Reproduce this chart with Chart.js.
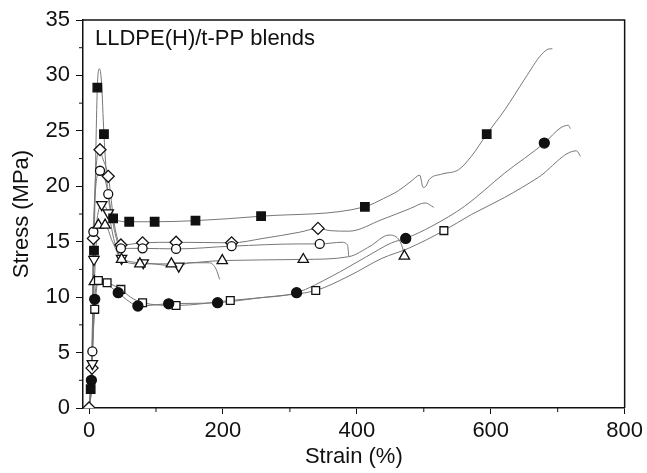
<!DOCTYPE html>
<html>
<head>
<meta charset="utf-8">
<script src="https://cdn.jsdelivr.net/npm/chart.js@4.4.1/dist/chart.umd.min.js"></script>
<style>
  body { margin: 0; background: #fff; }
  #wrap { width: 647px; height: 473px; }
</style>
</head>
<body>
<div id="wrap"><canvas id="stress_chart" width="647" height="473"></canvas></div>
<script>
const sqFilledLine = [[0,0],[2.5,1.7],[7.4,14.2],[12.4,28.9],[15.5,30.6],[18.5,29.5],[22.3,24.7],[28,19.5],[36,17.1],[60,16.8],[98,16.8],[159,16.9],[257,17.3],[412,18.15],[440,18.9],[462,19.6],[482,20.5],[494,21.0],[499,19.9],[503,20.0],[508,20.6],[527,21.1],[552,21.5],[571,22.7],[594,24.7],[621,26.9],[651,29.7],[676,31.9],[688,32.4],[692,32.4]];
const sqFilledMarks = [[2.5,1.7],[7.4,14.2],[12.4,28.9],[22.3,24.7],[36,17.1],[60,16.8],[98,16.8],[159,16.9],[257,17.3],[412,18.15],[594,24.7]];

const circFilledLine = [[0,0],[3.5,2.5],[8.5,9.8],[14,11.5],[25,11.2],[43.6,10.4],[60,9.6],[73,9.2],[119,9.4],[192,9.5],[250,9.9],[310,10.4],[363,11.9],[413,13.6],[452,14.9],[473,15.3],[512,16.4],[561,18.2],[621,21.2],[680,23.9],[705,25.3],[716,25.5],[719,25.2]];
const circFilledMarks = [[3.5,2.5],[8.5,9.8],[43.6,10.4],[73,9.2],[119,9.4],[192,9.5],[310,10.4],[473,15.3],[680,23.9]];

const sqOpenLine = [[0,0],[3,2.8],[8.5,8.9],[14,11.5],[27,11.3],[47.6,10.7],[62,10.0],[80,9.5],[130,9.25],[211,9.7],[280,10.1],[338.6,10.6],[388,11.9],[437.6,13.5],[477,14.4],[530,16.0],[571,17.45],[621,19.0],[671,20.8],[728,23.2],[734,22.7]];
const sqOpenMarks = [[8.5,8.9],[14,11.5],[27,11.3],[47.6,10.7],[80,9.5],[130,9.25],[211,9.7],[338.6,10.6],[530,16.0]];

const triUpLine = [[0,0],[3,1.5],[8,11.4],[14,16.5],[24,16.5],[35,15],[48.6,13.4],[76,13.0],[123,13.0],[199,13.3],[320,13.4],[388,13.65],[420,14.6],[448,15.6],[462,15.25],[468,14.5],[471,13.7]];
const triUpMarks = [[8,11.4],[14,16.5],[24,16.5],[48.6,13.4],[76,13.0],[123,13.0],[199,13.3],[320,13.4],[471,13.7]];

const triDownLine = [[0,0],[5,4.0],[7.4,13.4],[12,17],[18.9,18.35],[28.7,17.6],[38,15],[48.6,13.5],[81,13.1],[134,12.8],[150,13.1],[180,13.1],[190,12.5],[195,11.6]];
const triDownMarks = [[5,4.0],[7.4,13.4],[18.9,18.35],[28.7,17.6],[48.6,13.5],[81,13.1],[134,12.8]];

const circOpenLine = [[0,0],[5,5.1],[6.5,15.9],[16.4,21.4],[22,21],[28.7,19.3],[38,16],[47.6,14.4],[80,14.4],[130,14.35],[213,14.6],[314,14.8],[344.6,14.8],[378,14.95],[386,14.7],[388,13.7]];
const circOpenMarks = [[5,5.1],[6.5,15.9],[16.4,21.4],[28.7,19.3],[47.6,14.4],[80,14.4],[130,14.35],[213,14.6],[344.6,14.8]];

const diamondLine = [[0,0],[4.5,3.6],[6.5,15.3],[16.4,23.3],[20,22.6],[28.7,20.9],[38,16.5],[47.6,14.7],[80,14.9],[130,14.95],[213,14.9],[260,15.3],[314,15.85],[342,16.2],[360,16.0],[388,15.95],[437.6,17.0],[480,18.0],[502,18.5],[515,18.1]];
const diamondMarks = [[0,0],[4.5,3.6],[6.5,15.3],[16.4,23.3],[28.7,20.9],[47.6,14.7],[80,14.9],[130,14.95],[213,14.9],[342,16.2]];

const xTicks = [0, 200, 400, 600, 800];
const yTicks = [0, 5, 10, 15, 20, 25, 30, 35];
const xMinor = [100, 300, 500, 700];
const yMinor = [2.5, 7.5, 12.5, 17.5, 22.5, 27.5, 32.5];

const FONT = "'Liberation Sans', Arial, sans-serif";

function toXY(arr) {
    return arr.map(p => ({x: p[0], y: p[1]}));
}

function curve(arr) {
    return {
        data: toXY(arr),
        showLine: true,
        borderColor: '#777',
        borderWidth: 1,
        pointRadius: 0,
        cubicInterpolationMode: 'monotone',
        order: 2
    };
}

function marks(arr, style, radius, filled, rotation) {
    return {
        data: toXY(arr),
        showLine: false,
        pointStyle: style,
        pointRadius: radius,
        pointRotation: rotation || 0,
        pointBackgroundColor: filled ? '#111' : '#fff',
        pointBorderColor: '#111',
        pointBorderWidth: 1.3,
        order: 1
    };
}

// frame, minor ticks and the note in the corner
const extras = {
    id: 'extras',
    afterDraw(chart) {
        let ctx = chart.ctx;
        let a = chart.chartArea;
        let xs = chart.scales.x, ys = chart.scales.y;
        ctx.save();
        ctx.strokeStyle = '#111';
        ctx.lineWidth = 1.5;
        ctx.beginPath();
        ctx.moveTo(a.left, a.top);
        ctx.lineTo(a.right, a.top);
        ctx.lineTo(a.right, a.bottom);
        ctx.stroke();
        ctx.lineWidth = 1;
        ctx.beginPath();
        xMinor.forEach(v => {
            let px = xs.getPixelForValue(v);
            ctx.moveTo(px, a.bottom);
            ctx.lineTo(px, a.bottom + 4);
        });
        yMinor.forEach(v => {
            let py = ys.getPixelForValue(v);
            ctx.moveTo(a.left, py);
            ctx.lineTo(a.left - 4, py);
        });
        ctx.stroke();
        ctx.fillStyle = '#111';
        ctx.font = '22px ' + FONT;
        ctx.textBaseline = 'alphabetic';
        ctx.fillText('LLDPE(H)/t-PP blends', a.left + 12, a.top + 25);
        ctx.restore();
    }
};

let ctx = document.getElementById('stress_chart').getContext('2d');
let chart = new Chart(ctx, {
    type: 'scatter',
    data: {
        datasets: [
            curve(sqFilledLine), curve(circFilledLine), curve(sqOpenLine), curve(triUpLine),
            curve(triDownLine), curve(circOpenLine), curve(diamondLine),
            marks(sqFilledMarks, 'rect', 6, true),
            marks(circFilledMarks, 'circle', 5, true),
            marks(sqOpenMarks, 'rect', 5.5, false),
            marks(triUpMarks, 'triangle', 6, false),
            marks(triDownMarks, 'triangle', 6, false, 180),
            marks(circOpenMarks, 'circle', 4.5, false),
            marks(diamondMarks, 'rectRot', 6, false)
        ]
    },
    options: {
        responsive: false,
        animation: false,
        layout: {padding: {left: 0, top: 20, right: 20, bottom: 0}},
        plugins: {legend: {display: false}, tooltip: {enabled: false}},
        scales: {
            x: {
                type: 'linear',
                min: -9,
                max: 800,
                afterBuildTicks: s => { s.ticks = xTicks.map(v => ({value: v})); },
                afterFit: s => { s.height = 65; },
                grid: {drawOnChartArea: false, tickLength: 6, color: '#111'},
                border: {color: '#111', width: 1.5},
                ticks: {color: '#111', font: {family: FONT, size: 22}, padding: 4, maxRotation: 0},
                title: {display: true, text: 'Strain (%)', color: '#111', font: {family: FONT, size: 22}, padding: {top: 0, bottom: 3}}
            },
            y: {
                min: 0,
                max: 35,
                afterBuildTicks: s => { s.ticks = yTicks.map(v => ({value: v})); },
                afterFit: s => { s.width = 83; },
                grid: {drawOnChartArea: false, tickLength: 7, color: '#111'},
                border: {color: '#111', width: 1.5},
                ticks: {color: '#111', font: {family: FONT, size: 22}, padding: 6},
                title: {display: true, text: 'Stress (MPa)', color: '#111', font: {family: FONT, size: 22}, padding: {top: 9, bottom: 0}}
            }
        }
    },
    plugins: [extras]
});
</script>
</body>
</html>
